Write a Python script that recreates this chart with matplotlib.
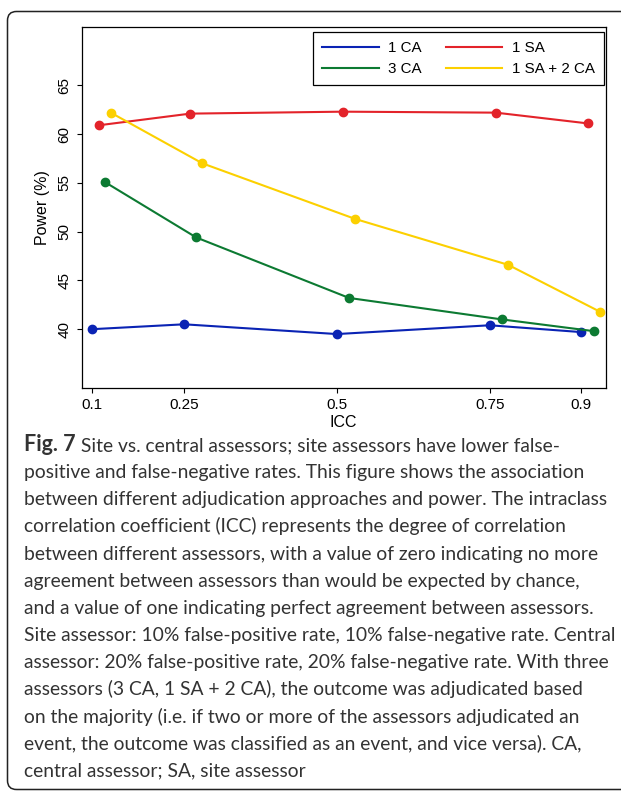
import numpy as np
import matplotlib
matplotlib.use("Agg")
import matplotlib.pyplot as plt
from matplotlib.patches import FancyBboxPatch
from matplotlib.transforms import IdentityTransform

# ICC values used in the simulation
icc = [0.1, 0.25, 0.5, 0.75, 0.9]
icc_ticks = ["0.1", "0.25", "0.5", "0.75", "0.9"]

# power (%) per adjudication approach
power_1ca = [40.0, 40.5, 39.5, 40.4, 39.7]
power_1sa = [60.9, 62.1, 62.3, 62.2, 61.1]
power_3ca = [55.1, 49.4, 43.2, 41.0, 39.8]
power_1sa2ca = [62.2, 57.0, 51.3, 46.6, 41.8]

series = [
    ("1 CA", power_1ca, "#0a23b4", 0.00),
    ("1 SA", power_1sa, "#e3232a", 0.01),
    ("3 CA", power_3ca, "#0c7a32", 0.02),
    ("1 SA + 2 CA", power_1sa2ca, "#fcd000", 0.03),
]

caption = [
    "Site vs. central assessors; site assessors have lower false-",
    "positive and false-negative rates. This figure shows the association",
    "between different adjudication approaches and power. The intraclass",
    "correlation coefficient (ICC) represents the degree of correlation",
    "between different assessors, with a value of zero indicating no more",
    "agreement between assessors than would be expected by chance,",
    "and a value of one indicating perfect agreement between assessors.",
    "Site assessor: 10% false-positive rate, 10% false-negative rate. Central",
    "assessor: 20% false-positive rate, 20% false-negative rate. With three",
    "assessors (3 CA, 1 SA + 2 CA), the outcome was adjudicated based",
    "on the majority (i.e. if two or more of the assessors adjudicated an",
    "event, the outcome was classified as an event, and vice versa). CA,",
    "central assessor; SA, site assessor",
]

W, H = 621, 791
fig = plt.figure(figsize=(W / 100, H / 100), dpi=100)
plt.rcParams["font.family"] = "Liberation Sans"

ax = fig.add_axes([81.7 / W, 1 - 387.7 / H, (605.7 - 81.7) / W, (387.7 - 27.3) / H])

lines = {}
for name, vals, col, off in series:
    x = np.array(icc) + off
    ln, = ax.plot(x, vals, color=col, lw=1.5, marker="o", ms=6, label=name)
    lines[name] = ln

ax.set_xlim(0.0825, 0.9397)
ax.set_ylim(34.0, 70.95)
ax.set_xticks(icc)
ax.set_xticklabels(icc_ticks)
ax.set_yticks([40, 45, 50, 55, 60, 65])
for lab in ax.get_yticklabels():
    lab.set_rotation(90)
    lab.set_va("center")
ax.tick_params(axis="both", labelsize=11, length=3.5, width=0.8, color="black")
ax.tick_params(axis="y", pad=4)
ax.tick_params(axis="x", pad=4)
for s in ax.spines.values():
    s.set_linewidth(0.9)
ax.set_xlabel("ICC", fontsize=11.5, labelpad=2)
ax.set_ylabel("Power (%)", fontsize=11.5, labelpad=5)

# two columns, filled column-wise: 1 CA / 3 CA, then 1 SA / 1 SA + 2 CA
order = ["1 CA", "3 CA", "1 SA", "1 SA + 2 CA"]
leg = ax.legend(
    handles=[lines[k] for k in order],
    ncol=2, loc="upper right", bbox_to_anchor=(0.997, 0.986), borderaxespad=0,
    frameon=True, fancybox=False, edgecolor="black", framealpha=1,
    fontsize=10.9, handlelength=3.7, handletextpad=0.65, columnspacing=1.6,
    borderpad=0.6, labelspacing=0.45,
)
leg.get_frame().set_linewidth(0.9)
for h in leg.legend_handles:
    h.set_marker("")

# rounded frame around figure and caption
frame = FancyBboxPatch((7.5, 1.5), 660, 778, boxstyle="round,pad=0,rounding_size=9",
                       transform=IdentityTransform(), fill=False,
                       edgecolor="#222222", linewidth=1.1)
fig.add_artist(frame)

# caption text
cap_font = dict(family="Lato", color="#333333")
x0 = 24 / W
base0 = 451
step = 27.15
r = fig.canvas.get_renderer()
t = fig.text(x0, 1 - base0 / H, "Fig. 7", fontsize=15.5, fontweight="bold", va="baseline", **cap_font)
bb = t.get_window_extent(renderer=r)
fig.text(bb.x1 / W, 1 - base0 / H, " " + caption[0], fontsize=13.85, va="baseline", **cap_font)
for i, line in enumerate(caption[1:], start=1):
    fig.text(x0, 1 - (base0 + i * step) / H, line, fontsize=13.85, va="baseline", **cap_font)

fig.savefig("out.png", dpi=100)
